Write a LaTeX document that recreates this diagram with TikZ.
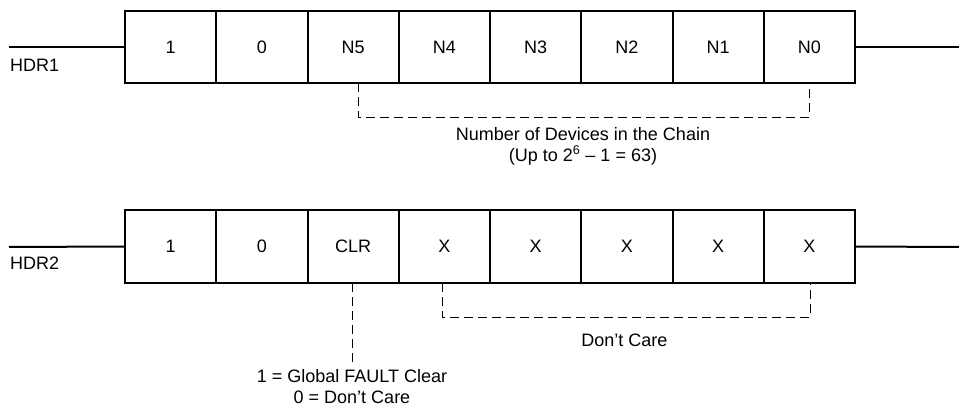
\documentclass[tikz,border=0pt]{standalone}
\usepackage{fontspec}
\setmainfont{Liberation Sans}
\begin{document}
\begin{tikzpicture}[x=1pt,y=-1pt,
  cell/.style={draw, line width=2pt, minimum width=91.25pt, minimum height=72pt, inner sep=0pt, font=\fontsize{18}{20}\selectfont},
  lbl/.style={inner sep=0pt, font=\fontsize{18}{21}\selectfont, align=center},
  wire/.style={line width=2pt},
  dline/.style={line width=1pt, dash pattern=on 9pt off 5pt}]
\useasboundingbox (0,0) rectangle (959,404);
% Row 1
\foreach \t [count=\i] in {1,0,N5,N4,N3,N2,N1,N0}{
  \node[cell] (a\i) at ({125+91.25*(\i-0.5)},47) {\t};
}
\coordinate (l1) at (9,47);
\coordinate (r1) at (959,47);
\draw[wire] (l1) -- (a1.west);
\draw[wire] (a8.east) -- (r1);
\node[lbl, anchor=west] (hdr1) at (10,65) {HDR1};
\coordinate (d1a) at (358,83);
\coordinate (d1b) at (809,83);
\draw[dline] (d1a) -- (358,117) -- (809,117) -- (d1b);
\node[lbl] (num) at (583,146) {Number of Devices in the Chain\\(Up to 2\textsuperscript{6} – 1 = 63)};
% Row 2
\foreach \t [count=\i] in {1,0,CLR,X,X,X,X,X}{
  \node[cell, minimum height=73pt] (b\i) at ({125+91.25*(\i-0.5)},246.5) {\t};
}
\coordinate (l2) at (9,247);
\coordinate (r2) at (959,247);
\draw[wire] (l2) -- (b1.west);
\draw[wire] (b8.east) -- (r2);
\node[lbl, anchor=west] (hdr2) at (10,263) {HDR2};
\coordinate (c1) at (352,283);
\coordinate (c2) at (352,362);
\node[lbl] (clr) at (352,387) {1 = Global FAULT Clear\\0 = Don’t Care};
\draw[dline] (c1) -- (c2);
\coordinate (d2a) at (442,283);
\coordinate (d2b) at (810,283);
\draw[dline] (d2a) -- (442,317) -- (810,317) -- (d2b);
\node[lbl] (dc) at (624.5,340) {Don’t Care};
\end{tikzpicture}
\end{document}
